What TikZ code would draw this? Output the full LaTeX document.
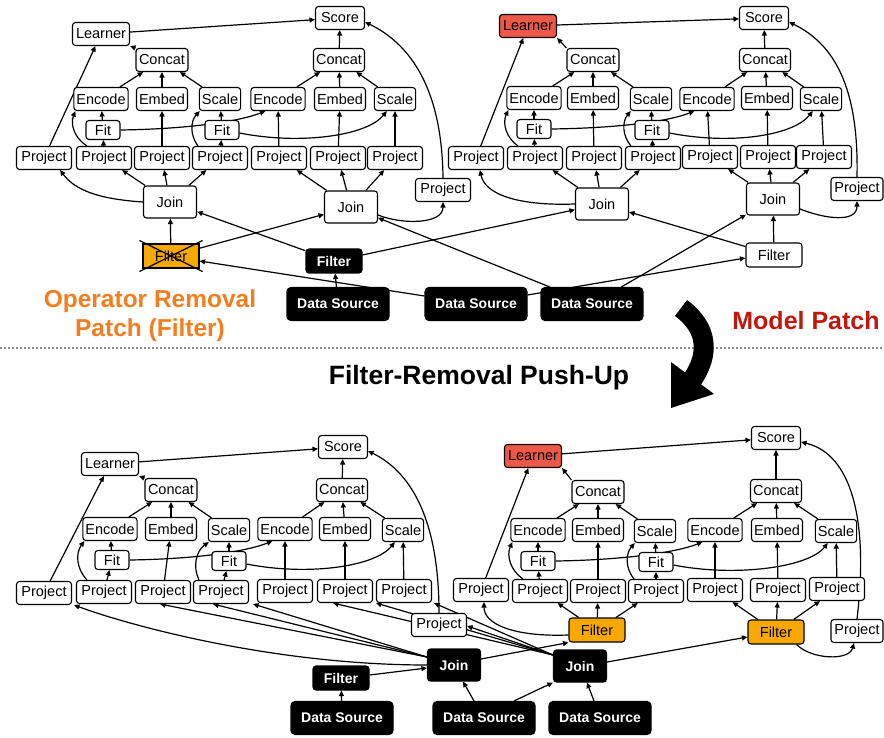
\documentclass[tikz,border=0pt]{standalone}
\usepackage{fontspec}
\setmainfont{Liberation Sans}
\usetikzlibrary{arrows.meta}
\pgfdeclarelayer{bg}
\pgfsetlayers{bg,main}
\definecolor{orfill}{RGB}{249,168,0}
\definecolor{redfill}{RGB}{238,88,70}
\definecolor{ortext}{RGB}{244,125,32}
\definecolor{mptext}{RGB}{192,25,12}
\definecolor{dotgray}{RGB}{140,140,140}
\tikzset{
 bx/.style={draw, line width=1.1pt, rounded corners=3pt, fill=white, inner xsep=2.5pt, inner ysep=0pt, minimum height=23pt, minimum width=41pt, font=\fontsize{14.5}{16}\selectfont},
 pj/.style={bx, minimum width=55pt},
 scb/.style={bx, minimum width=49pt},
 lnb/.style={bx, minimum width=57pt},
 ccb/.style={bx, minimum width=52pt},
 fitbx/.style={bx, minimum width=34pt, minimum height=19pt},
 joinbx/.style={bx, minimum width=53pt, minimum height=32pt},
 filtbx/.style={bx, minimum width=56pt, minimum height=24pt},
 blk/.style={fill=black, text=white, font=\fontsize{14}{16}\selectfont\bfseries},
 dsbx/.style={bx, blk, minimum width=102pt, minimum height=33pt, rounded corners=4pt},
 orf/.style={fill=orfill},
 redf/.style={fill=redfill},
 arr/.style={line width=1.2pt, -{Triangle[length=5.5pt,width=5pt]}},
 lbl/.style={font=\fontsize{24.5}{28}\selectfont\bfseries},
}
\newcommand{\subedges}[1]{%
 \draw[arr] (#1L) -- (#1S);
 \draw[arr] (#1C1.north west) -- (#1L.south east);
 \draw[arr] (#1E1) -- (#1C1);
 \draw[arr] (#1M1) -- (#1C1);
 \draw[arr] (#1K1) -- (#1C1);
 \draw[arr] (#1E2) -- (#1C2);
 \draw[arr] (#1M2) -- (#1C2);
 \draw[arr] (#1K2) -- (#1C2);
 \draw[arr] (#1C2) -- (#1S);
 \draw[arr] (#1P1) -- (#1L);
 \draw[arr] (#1P2) -- (#1F1);
 \draw[arr] (#1F1) -- (#1E1);
 \draw[arr] ([xshift=11pt]#1P2.north west) to[bend left=40] ([xshift=2pt]#1E1.south west);
 \draw[arr] (#1P3) -- (#1M1);
 \draw[arr] (#1P4) -- (#1F2);
 \draw[arr] (#1F2) -- (#1K1);
 \draw[arr] ([xshift=6pt]#1P4.north west) to[bend left=40] ([xshift=1pt]#1K1.south west);
 \draw[arr] (#1F1.east) .. controls +(70,-1) and +(-25,10) .. ([xshift=15pt]#1E2.south west);
 \draw[arr] ([yshift=-3pt]#1F2.east) .. controls +(60,12) and +(-20,25) .. ([xshift=13pt]#1K2.south west);
 \draw[arr] (#1P5) -- (#1E2);
 \draw[arr] (#1P6) -- (#1M2);
 \draw[arr] (#1P7) -- (#1K2);
}
\begin{document}
\begin{tikzpicture}[x=1pt,y=-1pt]
\useasboundingbox (0,0) rectangle (884,738);
% ---------- graph A (top left)
\node[scb] (aS) at (340,18) {Score};
\node[lnb] (aL) at (101,34) {Learner};
\node[ccb] (aC1) at (162,60) {Concat};
\node[bx] (aC2) at (339,60) {Concat};
\node[bx] (aE1) at (101,99) {Encode};
\node[bx] (aM1) at (162,99) {Embed};
\node[bx] (aK1) at (220,99) {Scale};
\node[bx] (aE2) at (278,99) {Encode};
\node[bx] (aM2) at (340,99) {Embed};
\node[bx] (aK2) at (395,99) {Scale};
\node[fitbx] (aF1) at (103,130) {Fit};
\node[fitbx] (aF2) at (222,130) {Fit};
\node[pj] (aP1) at (44,158) {Project};
\node[pj] (aP2) at (104,158) {Project};
\node[pj] (aP3) at (162,158) {Project};
\node[pj] (aP4) at (220,158) {Project};
\node[pj] (aP5) at (279,158) {Project};
\node[pj] (aP6) at (338,158) {Project};
\node[pj] (aP7) at (395,158) {Project};
\node[pj] (aP8) at (443,190) {Project};
\node[joinbx] (aJ1) at (170,202) {Join};
\node[joinbx] (aJ2) at (351,207) {Join};
\node[filtbx, orf, rounded corners=0pt] (aX) at (171,256) {Filter};
\draw[line width=1.2pt] ([shift={(-3pt,3pt)}]aX.north west) -- ([shift={(3pt,-3pt)}]aX.south east);
\draw[line width=1.2pt] ([shift={(-3pt,-3pt)}]aX.south west) -- ([shift={(3pt,3pt)}]aX.north east);
\node[filtbx, blk] (aBF) at (334,261) {Filter};
\node[dsbx] (ds1) at (338,304) {Data Source};
\node[dsbx] (ds2) at (476,304) {Data Source};
\node[dsbx] (ds3) at (592,304) {Data Source};
% ---------- graph B (top right)
\node[scb] (bS) at (764,18) {Score};
\node[lnb, redf] (bL) at (528,26) {Learner};
\node[ccb] (bC1) at (593,60) {Concat};
\node[bx] (bC2) at (765,60) {Concat};
\node[bx] (bE1) at (534,98) {Encode};
\node[bx] (bM1) at (593,98) {Embed};
\node[bx] (bK1) at (651,99) {Scale};
\node[bx] (bE2) at (707,99) {Encode};
\node[bx] (bM2) at (767,98) {Embed};
\node[bx] (bK2) at (821,99) {Scale};
\node[fitbx] (bF1) at (534,129) {Fit};
\node[fitbx] (bF2) at (652,130) {Fit};
\node[pj] (bP1) at (476,158) {Project};
\node[pj] (bP2) at (535,158) {Project};
\node[pj] (bP3) at (594,158) {Project};
\node[pj] (bP4) at (653,158) {Project};
\node[pj] (bP5) at (710,157) {Project};
\node[pj] (bP6) at (768,157) {Project};
\node[pj] (bP7) at (824,157) {Project};
\node[bx, minimum width=52pt] (bP8) at (857,189) {Project};
\node[joinbx] (bJ1) at (602,204) {Join};
\node[joinbx] (bJ2) at (773,199) {Join};
\node[filtbx] (bFB) at (774,255) {Filter};
% ---------- graph C (bottom left)
\node[scb] (cS) at (343,447) {Score};
\node[lnb] (cL) at (110,464) {Learner};
\node[ccb] (cC1) at (171,490) {Concat};
\node[bx] (cC2) at (342,490) {Concat};
\node[bx] (cE1) at (110,529) {Encode};
\node[bx] (cM1) at (171,529) {Embed};
\node[bx] (cK1) at (229,530) {Scale};
\node[bx] (cE2) at (285,529) {Encode};
\node[bx] (cM2) at (345,529) {Embed};
\node[bx] (cK2) at (403,530) {Scale};
\node[fitbx] (cF1) at (112,560) {Fit};
\node[fitbx] (cF2) at (229,561) {Fit};
\node[pj] (cP1) at (44,593) {Project};
\node[pj] (cP2) at (104,592) {Project};
\node[pj] (cP3) at (163,592) {Project};
\node[pj] (cP4) at (221,592) {Project};
\node[pj] (cP5) at (285,591) {Project};
\node[pj] (cP6) at (345,591) {Project};
\node[pj] (cP7) at (404,591) {Project};
\node[pj] (cP8) at (439,625) {Project};
\node[filtbx, blk] (cBF) at (341,678) {Filter};
\node[joinbx, blk] (cJ1) at (454,665) {Join};
\node[joinbx, blk] (cJ2) at (580,666) {Join};
\node[dsbx] (cds1) at (342,718) {Data Source};
\node[dsbx] (cds2) at (484,718) {Data Source};
\node[dsbx] (cds3) at (600,718) {Data Source};
% ---------- graph D (bottom right)
\node[scb] (dS) at (776,438) {Score};
\node[lnb, redf] (dL) at (533,456) {Learner};
\node[ccb] (dC1) at (598,492) {Concat};
\node[bx] (dC2) at (776,491) {Concat};
\node[bx] (dE1) at (538,530) {Encode};
\node[bx] (dM1) at (598,530) {Embed};
\node[bx] (dK1) at (655,531) {Scale};
\node[bx] (dE2) at (715,530) {Encode};
\node[bx] (dM2) at (777,530) {Embed};
\node[bx] (dK2) at (836,531) {Scale};
\node[fitbx] (dF1) at (538,561) {Fit};
\node[fitbx] (dF2) at (656,562) {Fit};
\node[pj] (dP1) at (481,590) {Project};
\node[pj] (dP2) at (540,591) {Project};
\node[pj] (dP3) at (598,591) {Project};
\node[pj] (dP4) at (656,591) {Project};
\node[pj] (dP5) at (715,590) {Project};
\node[pj] (dP6) at (778,590) {Project};
\node[pj] (dP7) at (837,589) {Project};
\node[filtbx, orf] (dFO1) at (597,630) {Filter};
\node[filtbx, orf] (dFO2) at (776,632) {Filter};
\node[bx, minimum width=52pt] (dP8) at (857,631) {Project};
% ---------- labels
\node[lbl, text=ortext] (t1) at (150,301) {Operator Removal};
\node[lbl, text=ortext] (t2) at (150,330) {Patch (Filter)};
\node[lbl, text=mptext, font=\fontsize{25}{28}\selectfont\bfseries] (t3) at (806,321) {Model Patch};
\node[lbl, font=\fontsize{26.5}{30}\selectfont\bfseries] (t4) at (479,378) {Filter-Removal Push-Up};
% ---------- separator and big arrow
\draw[dotgray, line width=2pt, dash pattern=on 2pt off 2pt] (0,348) -- (884,348);
\draw[line width=20pt] (681,308) .. controls (708,328) and (710,354) .. (692,380);
\fill (671,362) -- (671,408) -- (714,394) -- cycle;
% ---------- edges
\begin{pgfonlayer}{bg}
\subedges{a}
\subedges{b}
\subedges{c}
\subedges{d}
\draw[arr] (aP8.north) .. controls +(-1,-90) and +(45,22) .. ([yshift=-4pt]aS.east);
\draw[arr] (bP8.north) .. controls +(2,-90) and +(45,22) .. ([yshift=-4pt]bS.east);
\draw[arr] (cP8.north) .. controls +(0,-90) and +(45,22) .. ([yshift=-4pt]cS.east);
\draw[arr] (dP8.north) .. controls +(12,-100) and +(50,12) .. ([yshift=-4pt]dS.east);
% A joins
\draw[arr] (aJ1.west) .. controls +(-45,-3) and +(15,20) .. ([xshift=-12pt]aP1.south east);
\draw[arr] (aJ1) -- (aP2);
\draw[arr] (aJ1) -- (aP3);
\draw[arr] (aJ1) -- (aP4);
\draw[arr] (aJ2) -- (aP5);
\draw[arr] (aJ2) -- (aP6);
\draw[arr] (aJ2) -- (aP7);
\draw[arr] ([yshift=-8pt]aJ2.east) .. controls +(25,10) and +(0,22) .. (aP8.south);
\draw[arr] (aX) -- (aJ1);
\draw[arr] (aX) -- (aJ2);
\draw[arr] (aBF) -- (aJ1);
\draw[arr] (ds1) -- (aBF);
\draw[arr] ([yshift=8pt]ds2.west) -- ([yshift=-5pt]aX.east);
\draw[arr] (aBF) -- (bJ1);
\draw[arr] (ds3) -- (aJ2);
\draw[arr] ([yshift=9pt]ds2.east) -- ([yshift=-3pt]bFB.west);
\draw[arr] (ds3) -- (bJ2);
\draw[arr] (bFB) -- (bJ2);
\draw[arr] (bFB) -- (bJ1);
% B joins
\draw[arr] (bJ1.west) .. controls +(-55,2) and +(5,25) .. ([xshift=4pt]bP1.south);
\draw[arr] (bJ1) -- (bP2);
\draw[arr] (bJ1) -- (bP3);
\draw[arr] (bJ1) -- (bP4);
\draw[arr] (bJ2) -- (bP5);
\draw[arr] (bJ2) -- (bP6);
\draw[arr] (bJ2) -- (bP7);
\draw[arr] ([yshift=-10pt]bJ2.east) .. controls +(25,10) and +(0,22) .. (bP8.south);
% C joins
\draw[arr] (cJ1.west) .. controls +(-150,0) and +(60,22) .. ([xshift=2pt]cP1.south east);
\draw[arr] ([yshift=8pt]cJ1.west) -- ([xshift=-3pt]cP3.south);
\draw[arr] ([yshift=8pt]cJ1.west) -- ([xshift=-8pt]cP4.south);
\draw[arr] ([yshift=8pt]cJ1.west) -- ([xshift=4pt]cP4.south east);
\draw[arr] ([yshift=11pt]cJ2.west) -- ([xshift=-12pt]cP6.south);
\draw[arr] ([yshift=11pt]cJ2.west) -- (cP7.south west);
\draw[arr] ([yshift=11pt]cJ2.west) -- ([xshift=2pt]cP7.south east);
\draw[arr] ([yshift=11pt]cJ2.west) -- ([yshift=-1pt]cP8.east);
\draw[arr] ([yshift=3pt]cBF.east) -- ([yshift=-3pt]cJ1.west);
\draw[arr] (cds1) -- (cBF);
\draw[arr] ([xshift=-10pt]cds2.north) -- ([xshift=9pt]cJ1.south);
\draw[arr] ([xshift=30pt]cds2.north) -- (cJ2.south west);
\draw[arr] ([xshift=-6pt]cds3.north) -- ([xshift=7pt]cJ2.south);
\draw[arr] ([yshift=6pt]cJ1.east) -- (dFO1.south west);
\draw[arr] ([yshift=4pt]cJ2.east) -- ([yshift=-5pt]dFO2.west);
% D filters
\draw[arr] ([yshift=-5pt]dFO1.west) .. controls +(-55,2) and +(0,22) .. ([xshift=3pt]dP1.south);
\draw[arr] (dFO1) -- (dP2);
\draw[arr] (dFO1) -- (dP3);
\draw[arr] (dFO1) -- (dP4);
\draw[arr] (dFO2) -- (dP5);
\draw[arr] (dFO2) -- (dP6);
\draw[arr] (dFO2) -- (dP7);
\draw[arr] ([xshift=-8pt]dFO2.south east) .. controls +(15,15) and +(-5,18) .. ([xshift=-3pt]dP8.south);
\end{pgfonlayer}
\end{tikzpicture}
\end{document}
